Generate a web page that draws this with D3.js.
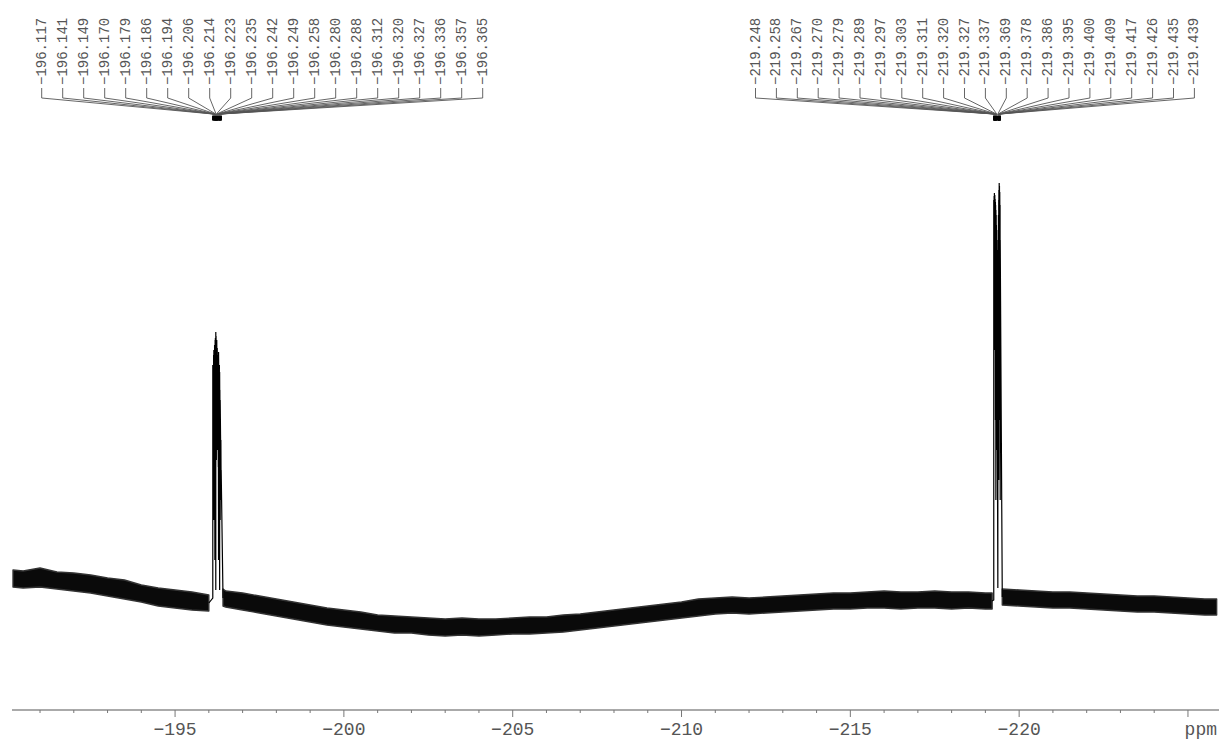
<!DOCTYPE html>
<html><head><meta charset="utf-8">
<script src="https://cdn.jsdelivr.net/npm/d3@7"></script>
<style>html,body{margin:0;padding:0;background:#fff;} svg{display:block;}</style>
</head><body>
<svg id="chart" width="1219" height="740"></svg>
<script>
// ---- Peak lists (ppm), multiplet line heights (intensity, a.u.) ----
const peak1Ppm = [-196.117,-196.141,-196.149,-196.170,-196.179,-196.186,-196.194,-196.206,-196.214,-196.223,-196.235,-196.242,-196.249,-196.258,-196.280,-196.288,-196.312,-196.320,-196.327,-196.336,-196.357,-196.365];
const peak1Top = [295,305,310,315,312,320,322,328,324,315,320,310,312,305,300,308,295,288,270,260,220,190];
const peak1Low = [62,190,140,205,100,230,190,70,240,200,250,220,230,210,193,100,220,70,230,140,190,160];
const peak1EdgePpm = [-196.00, -196.42];
const peak1EdgeVal = [57, 62];

const peak2Ppm = [-219.248,-219.258,-219.267,-219.270,-219.279,-219.289,-219.297,-219.303,-219.311,-219.320,-219.327,-219.337,-219.369,-219.378,-219.386,-219.395,-219.400,-219.409,-219.417,-219.426,-219.435,-219.439];
const peak2Top = [460,464,467,463,465,461,458,455,450,445,435,420,410,430,445,460,470,477,474,468,455,420];
const peak2Low = [60,400,360,420,310,430,240,400,160,360,210,280,72,260,330,180,360,280,400,240,360,160];
const peak2EdgePpm = [-219.20, -219.50];
const peak2EdgeVal = [59, 63];

// ---- Baseline noise band (upper / lower envelope, a.u.) ----
const baseAPpm = [-190.2,-190.5,-191,-191.5,-192,-192.5,-193,-193.5,-194,-194.5,-195,-195.5,-196.0];
const baseAHi  = [90,89,92,88,87,85,82,80,75,72,70,68,65];
const baseALo  = [73,72,73,71,69,67,64,61,58,54,52,50,49];

const baseBPpm = [-196.42,-196.5,-197,-197.5,-198,-198.5,-199,-199.5,-200,-200.5,-201,-201.5,-202,-202.5,-203,-203.5,-204,-204.5,-205,-205.5,-206,-206.5,-207,-207.5,-208,-208.5,-209,-209.5,-210,-210.5,-211,-211.5,-212,-212.5,-213,-213.5,-214,-214.5,-215,-215.5,-216,-216.5,-217,-217.5,-218,-218.5,-219,-219.2];
const baseBHi  = [71,69,67,64,61,58,55,52,50,48,45,44,43,42,41,42,41,41,42,43,43,45,46,48,50,52,54,56,58,61,62,63,62,63,64,65,66,67,67,68,69,68,68,69,68,68,67,67];
const baseBLo  = [54,53,50,47,44,41,38,35,33,31,29,27,27,25,24,25,24,25,26,26,27,28,30,32,34,36,38,40,42,44,46,47,46,47,48,49,50,51,51,52,52,51,52,52,51,52,51,51];

const baseCPpm = [-219.5,-220,-220.5,-221,-221.5,-222,-222.5,-223,-223.5,-224,-224.5,-225,-225.5,-225.85];
const baseCHi  = [71,70,69,68,68,67,66,65,64,64,63,62,61,61];
const baseCLo  = [55,54,53,52,52,51,50,49,48,48,47,46,45,45];

// ---- Axis ----
const majorTicks = [-195,-200,-205,-210,-215,-220,-225];
const minorTicks = d3.range(-191, -226, -1);
const axisUnit = "ppm";

// ---- Drawing ----
const svg = d3.select("#chart");
const x = d3.scaleLinear().domain([-190.17, -225.86]).range([12, 1217]);
const y = d3.scaleLinear().domain([0, 500]).range([660, 160]);

// noise band
const band = d3.area().x(d => x(d.p)).y0(d => y(d.lo)).y1(d => y(d.hi));
[[baseAPpm, baseAHi, baseALo],[baseBPpm, baseBHi, baseBLo],[baseCPpm, baseCHi, baseCLo]].forEach(([P,H,L]) => {
  const data = P.map((p,i) => ({p, hi:H[i], lo:L[i]}));
  svg.append("path").attr("d", band(data)).attr("fill", "#0a0a0a")
     .attr("stroke", "#333").attr("stroke-width", 1.4).attr("stroke-linejoin","round");
});

// peaks as line path
function peakPoints(ppm, top, low, edgeP, edgeV) {
  const pts = [[edgeP[0], edgeV[0]]];
  ppm.forEach((p,i) => { pts.push([p, low[i]]); pts.push([p, top[i]]); });
  pts.push([edgeP[1], edgeV[1]]);
  return pts;
}
const line = d3.line().x(d => x(d[0])).y(d => y(d[1]));
[[peak1Ppm, peak1Top, peak1Low, peak1EdgePpm, peak1EdgeVal],
 [peak2Ppm, peak2Top, peak2Low, peak2EdgePpm, peak2EdgeVal]].forEach(a => {
  svg.append("path").attr("d", line(peakPoints(...a))).attr("fill","none")
     .attr("stroke","#000").attr("stroke-width",1.2);
});

// axis
const axisY = 710;
const ax = svg.append("g");
ax.append("line").attr("x1", 12).attr("x2", 1219).attr("y1", axisY).attr("y2", axisY)
  .attr("stroke", "#aaa").attr("stroke-width", 2);
ax.selectAll(".minor").data(minorTicks.filter(t => t % 5 !== 0)).join("line")
  .attr("x1", d => x(d)).attr("x2", d => x(d)).attr("y1", axisY).attr("y2", axisY + 3)
  .attr("stroke", "#777").attr("stroke-width", 1);
ax.selectAll(".major").data(majorTicks).join("line")
  .attr("x1", d => x(d)).attr("x2", d => x(d)).attr("y1", axisY).attr("y2", axisY + 7)
  .attr("stroke", "#777").attr("stroke-width", 1);
const fmtTick = d3.format("d");
ax.selectAll(".tl").data(majorTicks.slice(0, -1)).join("text")
  .attr("x", d => x(d)).attr("y", 735).attr("text-anchor", "middle")
  .attr("font-family", "'Liberation Mono', 'DejaVu Sans Mono', monospace").attr("font-size", 18)
  .attr("fill", "#555").text(d => fmtTick(d));
ax.append("text").attr("x", 1217).attr("y", 735).attr("text-anchor", "end")
  .attr("font-family", "'Liberation Mono', 'DejaVu Sans Mono', monospace").attr("font-size", 18)
  .attr("fill", "#555").text(axisUnit);

// peak labels
const fmtPk = d3.format(".3f");
function labelGroup(ppm, x0, step) {
  const g = svg.append("g");
  ppm.forEach((p, i) => {
    const lx = x0 + step * i;
    const px = x(p);
    g.append("text").attr("transform", `translate(${lx},85) rotate(-90)`)
      .attr("dominant-baseline", "central").attr("text-anchor", "start")
      .attr("font-family", "'Liberation Mono', 'DejaVu Sans Mono', monospace").attr("font-size", 14)
      .attr("fill", "#555").text(fmtPk(p));
    g.append("path").attr("d", `M${lx},88 L${lx},98 L${px},114 L${px},120`)
      .attr("fill", "none").attr("stroke", "#555").attr("stroke-width", 0.9);
  });
  g.append("g").selectAll("line").data(ppm).join("line")
    .attr("x1", d => x(d)).attr("x2", d => x(d)).attr("y1", 116).attr("y2", 120.5)
    .attr("stroke", "#000").attr("stroke-width", 1.5);
}
labelGroup(peak1Ppm, 41.7, 21.0);
labelGroup(peak2Ppm, 755.5, 20.9);
</script>
</body></html>
